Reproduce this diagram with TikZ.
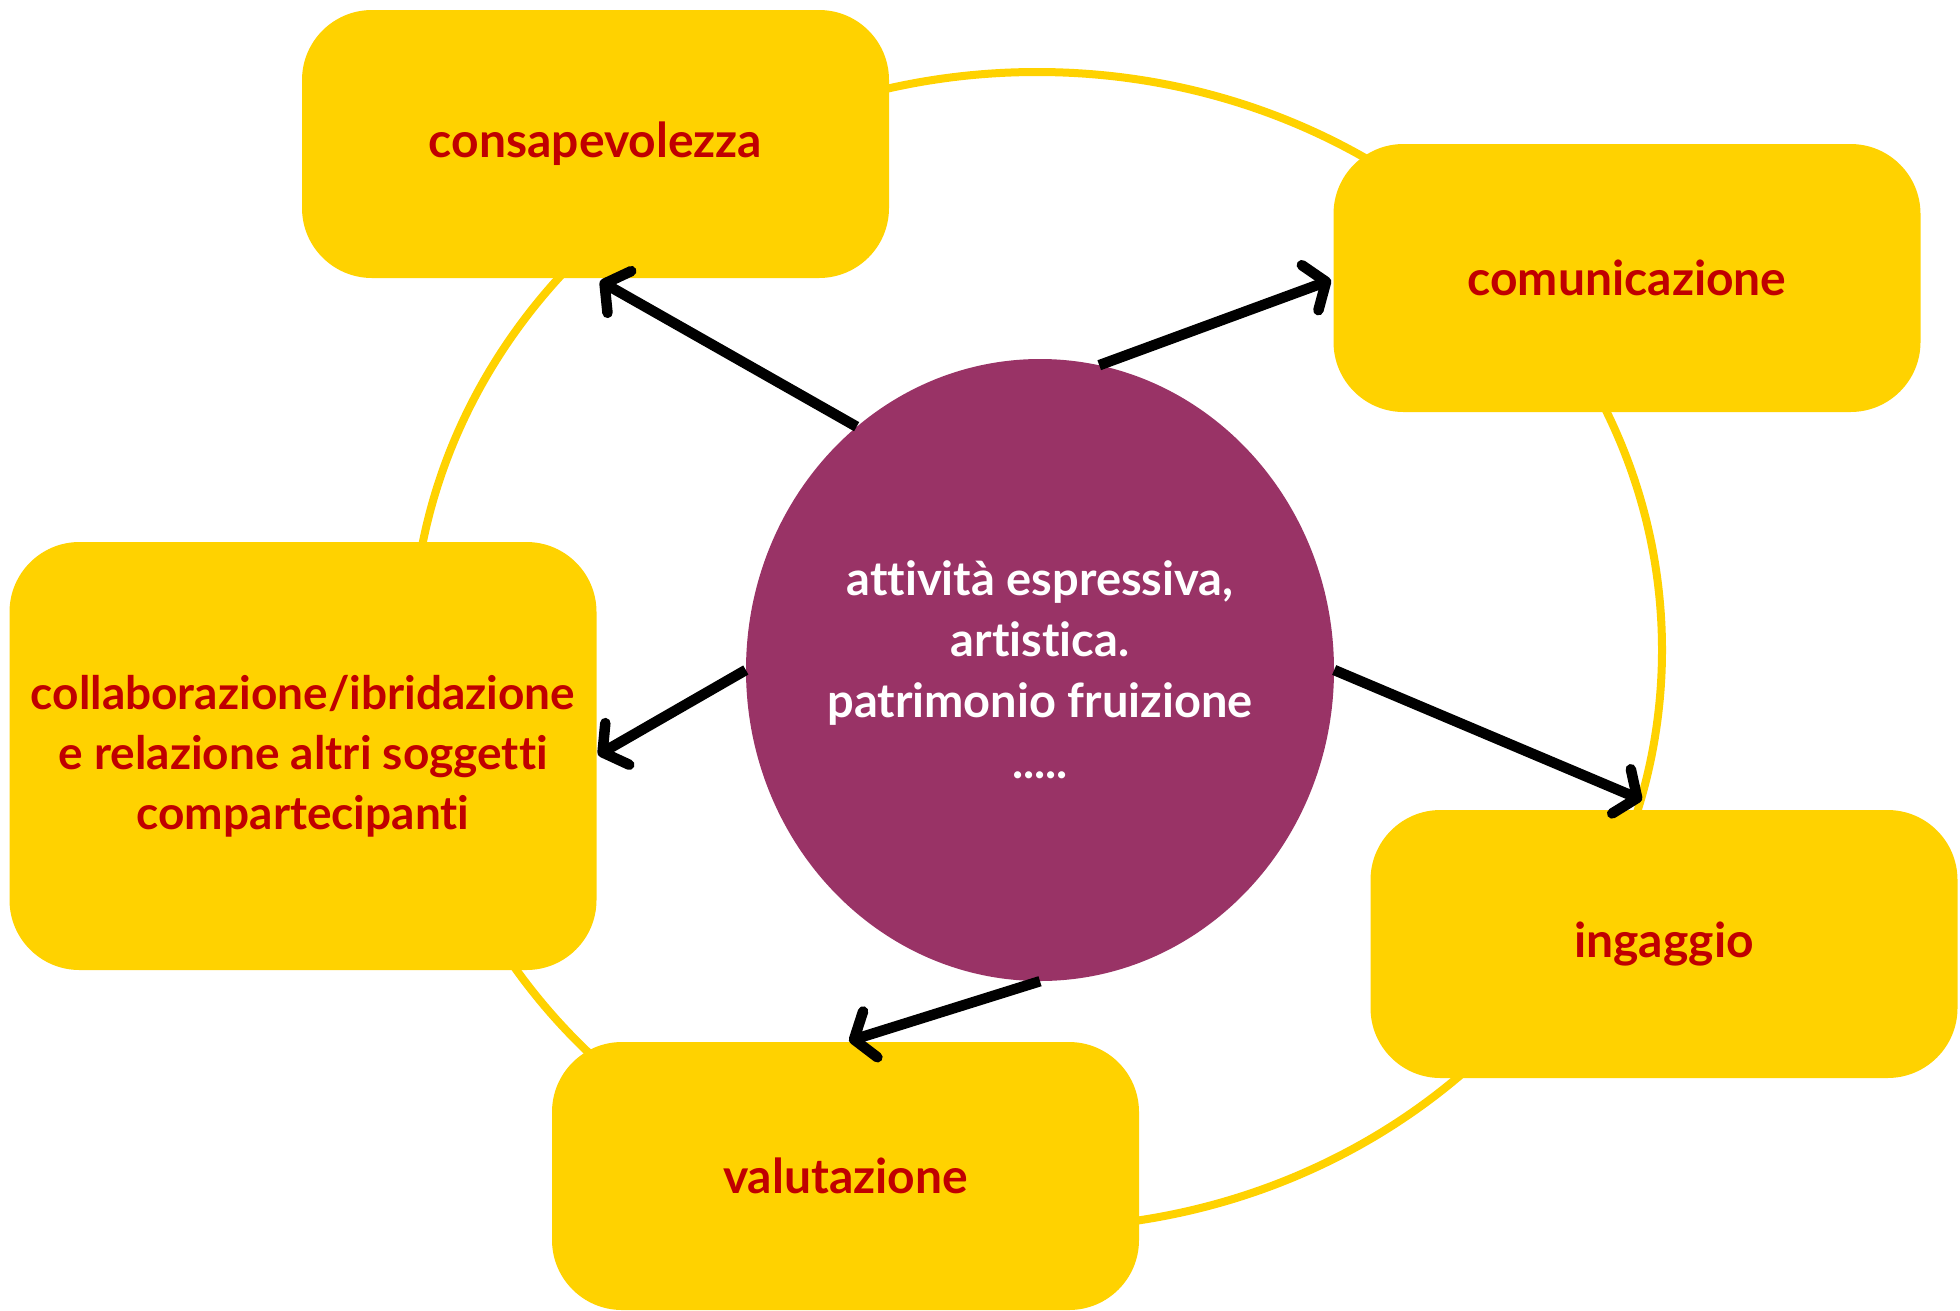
\documentclass[tikz,border=0pt]{standalone}
\usepackage{fontspec}
\setmainfont{Lato}[Ligatures={NoCommon}]
\usetikzlibrary{arrows.meta,shapes.geometric}
\definecolor{boxyellow}{RGB}{255,210,0}
\definecolor{plum}{RGB}{153,51,102}
\definecolor{labred}{RGB}{192,0,0}
\tikzset{
  box/.style={draw=none, fill=boxyellow, rounded corners=70pt,
    minimum width=587pt, minimum height=268pt, inner sep=0pt,
    text=labred, font=\fontsize{48}{60}\selectfont\bfseries, align=center},
  ring/.style={draw=boxyellow, line width=8pt},
  hub/.style={ellipse, fill=plum, minimum width=588pt, minimum height=622pt,
    inner xsep=-90pt, inner ysep=0pt, text=white,
    font=\fontsize{47}{61}\selectfont\bfseries, align=center},
  link/.style={draw=black, line width=10.5pt,
    -{Straight Barb[length=17pt,width=48pt,line cap=round,line join=round]}}
}
\begin{document}
\begin{tikzpicture}[x=1pt,y=-1pt]
\useasboundingbox (0,0) rectangle (1960,1310);
\coordinate (rc) at (1037,650);
\draw[ring] (rc) ellipse [x radius=625, y radius=578];
\node[box] (cons) at (595.5,144) {consapevolezza};
\node[box] (comu) at (1627,278) {comunicazione};
\node[box, minimum height=428pt, font=\fontsize{46}{60}\selectfont\bfseries] (coll) at (303,756) {collaborazione/ibridazione\\e relazione altri soggetti\\compartecipanti};
\node[box] (inga) at (1664,944) {ingaggio};
\node[box] (valu) at (845.5,1176) {valutazione};
\node[hub] (c) at (1040,670) {attività espressiva,\\artistica.\\patrimonio fruizione\\.....};
\coordinate (t1) at (600,281);
\coordinate (t2) at (1331,280);
\coordinate (t3) at (598,755);
\coordinate (t4) at (1642,800);
\coordinate (t5) at (849,1041);
\draw[link] (c.127.5) -- (t1);
\draw[link] (c.79.3) -- (t2);
\draw[link] (c.180) -- (t3);
\draw[link] (c.0) -- (t4);
\draw[link] (c.270) -- (t5);
\end{tikzpicture}
\end{document}
